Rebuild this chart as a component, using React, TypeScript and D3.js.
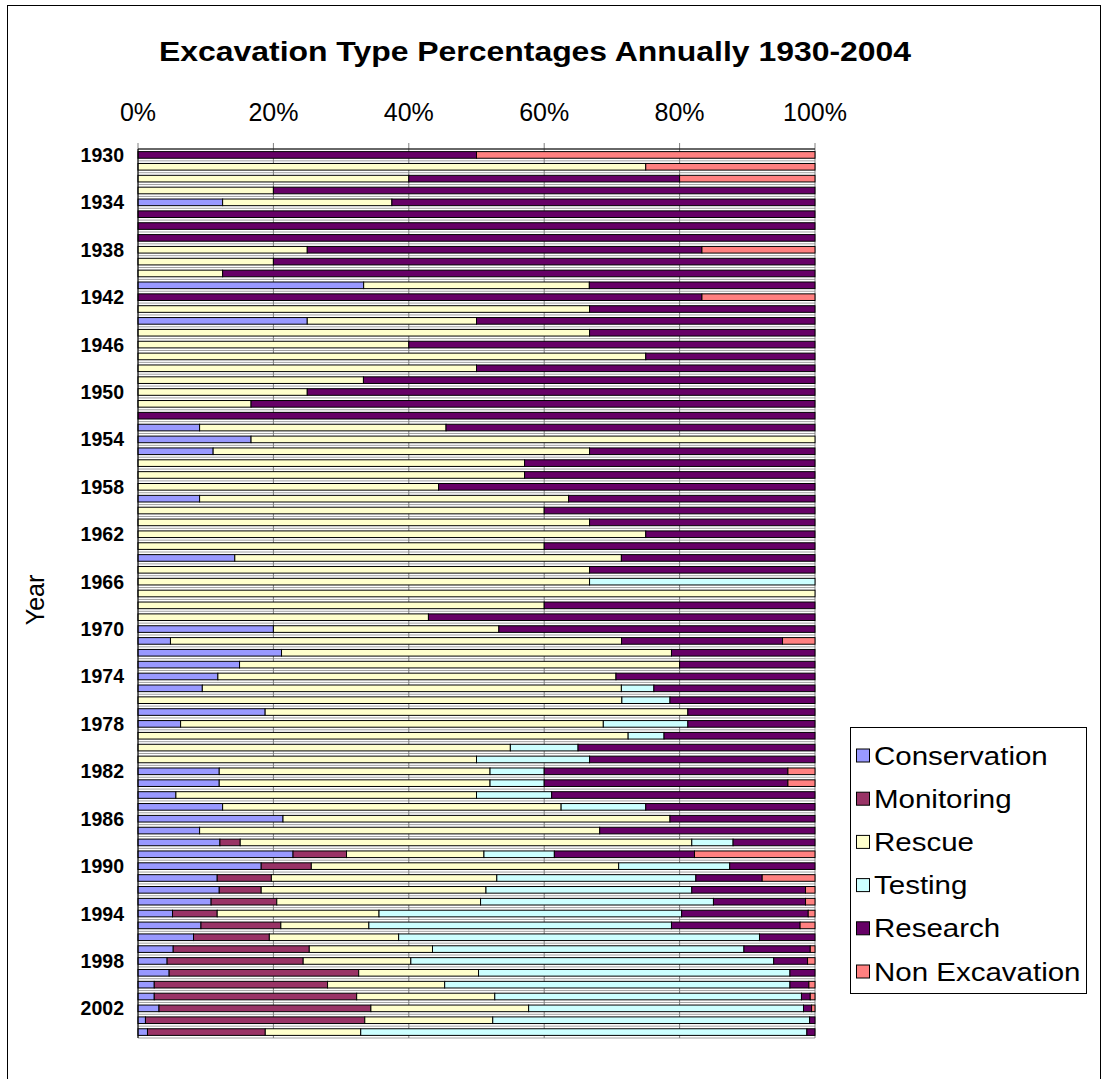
import React from "react";
import * as d3 from "d3";

const years: number[] = d3.range(1930, 2005);
const seriesNames = ["Conservation", "Monitoring", "Rescue", "Testing", "Research", "Non Excavation"];
const seriesColors = ["#9999FF", "#993366", "#FFFFCC", "#CCFFFF", "#660066", "#FF8080"];
const tickLabels = ["0%", "20%", "40%", "60%", "80%", "100%"];
const yearLabels = d3.range(1930, 2005, 4);

const conservation = [0,0,0,0,12.5,0,0,0,0,0,0,33.3,0,0,25,0,0,0,0,0,0,0,0,9.1,16.7,11.1,0,0,0,9.1,0,0,0,0,14.3,0,0,0,0,0,20,4.8,21.2,15,11.8,9.5,0,18.8,6.3,0,0,0,12,12,5.6,12.5,21.4,9.1,12.1,22.9,18.2,11.7,12.0,10.8,5.1,9.3,8.2,5.2,4.3,4.6,2.4,2.4,3.1,1.1,1.4];
const monitoring = [0,0,0,0,0,0,0,0,0,0,0,0,0,0,0,0,0,0,0,0,0,0,0,0,0,0,0,0,0,0,0,0,0,0,0,0,0,0,0,0,0,0,0,0,0,0,0,0,0,0,0,0,0,0,0,0,0,0,3.0,7.9,7.4,8.0,6.2,9.7,6.6,11.8,11.2,20.1,20.1,28.0,25.6,29.9,31.3,32.4,17.4];
const rescue = [0,75,40,20,25,0,0,0,25,20,12.5,33.3,0,66.7,25,66.7,40,75,50,33.3,25,16.7,0,36.4,83.3,55.6,57.1,57.1,44.4,54.5,60,66.7,75,60,57.1,66.7,66.7,100,60,42.9,33.3,66.7,57.6,65,58.8,61.9,71.4,62.5,62.5,72.4,55,50,40,40,44.4,50,57.1,59.1,66.7,20.3,45.4,33.3,33.2,30.1,23.9,13.0,19.1,18.2,15.9,17.7,17.3,20.4,23.3,18.9,14.1];
const testing = [0,0,0,0,0,0,0,0,0,0,0,0,0,0,0,0,0,0,0,0,0,0,0,0,0,0,0,0,0,0,0,0,0,0,0,0,33.3,0,0,0,0,0,0,0,0,4.8,7.1,0,12.5,5.3,10,16.7,8,8,11.1,12.5,0,0,6.1,10.4,16.4,29.4,30.4,34.4,44.7,44.7,53.3,46.0,53.6,46.0,51.0,45.3,40.6,46.8,65.9];
const research = [50,0,40,80,62.5,100,100,100,58.3,80,87.5,33.3,83.3,33.3,50,33.3,60,25,50,66.7,75,83.3,100,54.5,0,33.3,42.9,42.9,55.6,36.4,40,33.3,25,40,28.6,33.3,0,0,40,57.1,46.7,23.8,21.2,20,29.4,23.8,21.4,18.8,18.8,22.3,35,33.3,36,36,38.9,25,21.4,31.8,12.1,20.7,12.6,9.8,16.8,13.6,18.7,19.0,8.2,9.8,5.0,3.7,2.8,1.3,1.2,0.8,1.2];
const nonExcavation = [50,25,20,0,0,0,0,0,16.7,0,0,0,16.7,0,0,0,0,0,0,0,0,0,0,0,0,0,0,0,0,0,0,0,0,0,0,0,0,0,0,0,0,4.8,0,0,0,0,0,0,0,0,0,0,4,4,0,0,0,0,0,17.8,0,7.8,1.4,1.4,1.0,2.2,0,0.7,1.1,0,0.9,0.7,0.5,0,0];

const allSeries = [conservation, monitoring, rescue, testing, research, nonExcavation];

const FONT = "'Liberation Sans', Arial, sans-serif";

export default function App() {
  const rows = years.map((yr, i) => {
    const r: any = { year: yr };
    seriesNames.forEach((n, k) => (r[n] = allSeries[k][i]));
    return r;
  });
  const stacked = d3.stack().keys(seriesNames).offset(d3.stackOffsetExpand)(rows);

  const left = 138, right = 815, top = 149, bottom = 1038;
  const x = d3.scaleLinear().domain([0, 1]).range([left, right]);
  const y = d3.scaleBand<number>().domain(years).range([top, bottom]).paddingInner(0.44).paddingOuter(0.22);
  const step = y.step();
  const ticks = d3.range(0, 1.0001, 0.2);

  const legendX = 850, legendY = 727, legendW = 236, legendH = 266;
  const legendRow = 43.2;

  return (
    <svg width={1110} height={1079} style={{ position: "absolute", left: 0, top: 0, background: "#fff" }} fontFamily={FONT}>
      <rect x={0} y={0} width={1110} height={1079} fill="#fff" />
      <rect x={7.5} y={5.5} width={1093} height={1090} fill="none" stroke="#000" strokeWidth={1} />
      <text x={535} y={61} textAnchor="middle" fontWeight="bold" fontSize={28} textLength={752} lengthAdjust="spacingAndGlyphs">Excavation Type Percentages Annually 1930-2004</text>

      {d3.range(0, years.length + 1).map((i) => (
        <line key={"h" + i} x1={left} x2={right} y1={top + i * step} y2={top + i * step} stroke="#a0a0a0" strokeWidth={1} />
      ))}
      {ticks.map((t, i) => (
        <line key={"g" + i} x1={x(t)} x2={x(t)} y1={top - 6} y2={bottom} stroke="#808080" strokeWidth={1} />
      ))}
      {ticks.map((t, i) => (
        <text key={"t" + i} x={x(t)} y={121} textAnchor="middle" fontSize={25}>{tickLabels[i]}</text>
      ))}

      {stacked.map((s, k) => (
        <g key={s.key} fill={seriesColors[k]} stroke="#000" strokeWidth={1}>
          {s.map((d, i) =>
            d[1] - d[0] > 0 ? (
              <rect key={i} x={x(d[0])} y={y(years[i])!} width={x(d[1]) - x(d[0])} height={y.bandwidth()} />
            ) : null
          )}
        </g>
      ))}

      <line x1={left} x2={right} y1={top} y2={top} stroke="#000" />
      <line x1={left} x2={left} y1={top} y2={bottom} stroke="#000" />

      {yearLabels.map((yr) => (
        <text key={yr} x={124} y={y(yr)! + y.bandwidth() / 2} dominantBaseline="central" textAnchor="end" fontWeight="bold" fontSize={19.5}>{yr}</text>
      ))}
      <text transform="translate(44,600) rotate(-90)" textAnchor="middle" fontSize={25}>Year</text>

      <rect x={legendX + 0.5} y={legendY + 0.5} width={legendW} height={legendH} fill="#fff" stroke="#000" />
      {seriesNames.map((n, k) => {
        const cy = legendY + 29 + k * legendRow;
        return (
          <g key={n}>
            <rect x={legendX + 6.5} y={cy - 7} width={13} height={13} fill={seriesColors[k]} stroke="#000" />
            <text transform={`translate(${legendX + 24},${cy}) scale(1.18,1)`} dominantBaseline="central" fontSize={25}>{n}</text>
          </g>
        );
      })}
    </svg>
  );
}
